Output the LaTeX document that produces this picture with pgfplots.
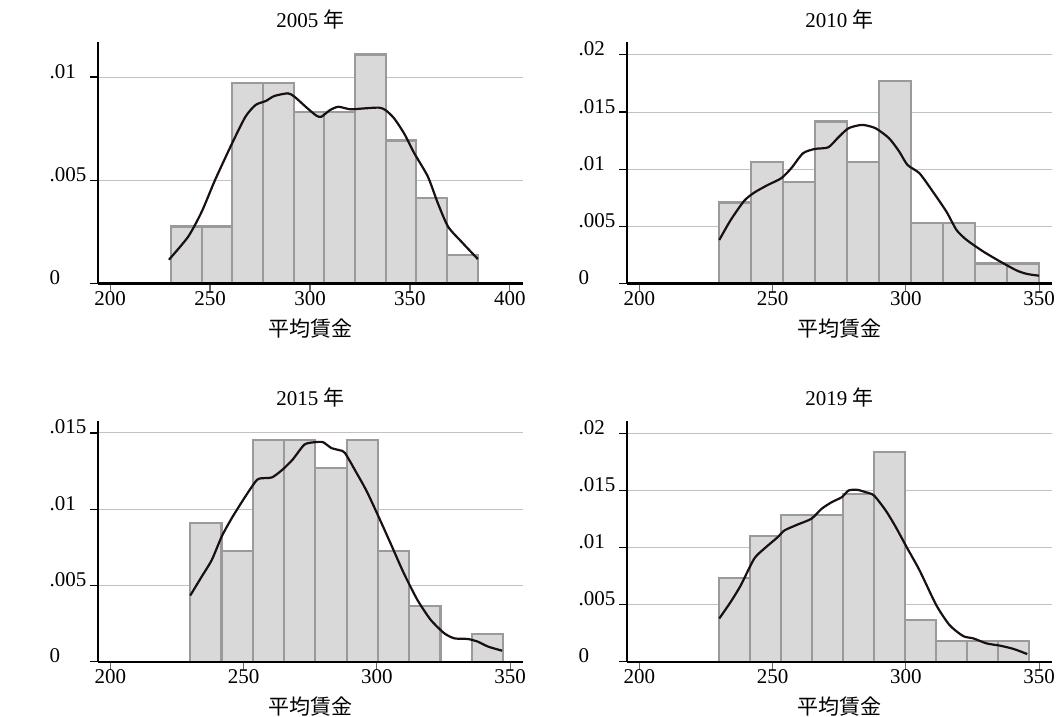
\documentclass[border=0pt]{standalone}
\usepackage{fontspec}
\setmainfont{Liberation Serif}
\newfontfamily\cjk{Noto Sans CJK JP}
\usepackage{pgfplots}
\pgfplotsset{compat=1.18}
\definecolor{barfill}{HTML}{D9D9D9}
\definecolor{baredge}{HTML}{9A9A9A}
\definecolor{gridc}{HTML}{C2C2C2}
\definecolor{curvec}{HTML}{1A1010}

\pgfplotsset{
  panel/.style={
    scale only axis, width=425pt, height=241.4pt, anchor=south west,
    axis x line=bottom, axis y line=left,
    axis line style={-, line width=2.4pt, black},
    ymin=0, enlargelimits=false,
    scaled y ticks=false, scaled x ticks=false,
    ymajorgrids, grid style={gridc, line width=1pt},
    tick align=outside, major tick length=8pt,
    ytick style={line width=1.2pt, black},
    xtick style={line width=1.2pt, black!60},
    font=\fontsize{21}{23}\selectfont,
    /pgf/number format/assume math mode=true,
    xticklabel style={anchor=base, yshift=-14pt},
    yticklabel style={anchor=base west, inner sep=0pt, xshift=-40.5pt, yshift=-1pt},
    title style={at={(axis description cs:0.5,1)}, anchor=base, yshift=9pt},
    xlabel style={at={(axis description cs:0.5,0)}, anchor=center, yshift=-45pt},
    xlabel={\cjk 平均賃金},
  },
  bars/.style={ybar interval, fill=barfill, draw=baredge, line width=2.2pt},
  kde/.style={curvec, line width=2.2pt, smooth, tension=0.4},
}

\begin{document}
\begin{tikzpicture}
\useasboundingbox (0,0) rectangle (1058pt,716pt);

% ---------- 2005 ----------
\begin{axis}[panel, at={(98pt,432.3pt)},
  xmin=193.9, xmax=406.6, ymax=0.01168,
  xtick={200,250,300,350,400},
  ytick={0,0.005,0.01}, yticklabels={0,.005,.01},
  title={2005 {\cjk 年}}]
\addplot[bars] coordinates {
 (230.40,0.002772) (245.76,0.002772) (261.11,0.009702) (276.47,0.009702)
 (291.82,0.008316) (307.18,0.008316) (322.53,0.011088) (337.89,0.006930)
 (353.24,0.004158) (368.60,0.001386) (383.95,0)};
\addplot[kde] coordinates {
 (229.4,0.00116) (239.0,0.00227) (245.8,0.00348) (252.5,0.00502)
 (261.0,0.00679) (267.7,0.00808) (272.8,0.00865) (277.9,0.00884)
 (282.1,0.00908) (288.9,0.00921) (292.2,0.00905) (298.2,0.00853)
 (303.2,0.00813) (305.7,0.00808) (310.0,0.00840) (314.2,0.00856)
 (320.1,0.00844) (326.9,0.00848) (334.5,0.00852) (337.8,0.00840)
 (342.1,0.00800) (347.1,0.00727) (352.2,0.00631) (359.0,0.00518)
 (364.0,0.00389) (369.1,0.00276) (375.8,0.00203) (384.0,0.00119)};
\draw[black, line width=2.4pt] ([xshift=-9pt]rel axis cs:0,0) -- (rel axis cs:1,0);
\node[font=\cjk\fontsize{20}{21}\selectfont, align=center, xshift=-77pt] at (rel axis cs:0,0.5) {密\\度};
\end{axis}

% ---------- 2010 ----------
\begin{axis}[panel, at={(627pt,432.3pt)},
  xmin=195.4, xmax=354.8, ymax=0.0211,
  xtick={200,250,300,350},
  ytick={0,0.005,0.01,0.015,0.02}, yticklabels={0,.005,.01,.015,.02},
  title={2010 {\cjk 年}}]
\addplot[bars] coordinates {
 (230,0.007092) (242,0.010638) (254,0.008865) (266,0.014184)
 (278,0.010638) (290,0.017730) (302,0.005319) (314,0.005319)
 (326,0.001773) (338,0.001773) (350,0)};
\addplot[kde] coordinates {
 (230.0,0.00382) (234.3,0.00557) (239.3,0.00723) (243.1,0.00796)
 (248.2,0.00863) (253.2,0.00921) (257.0,0.01009) (261.4,0.01140)
 (265.9,0.01178) (270.9,0.01192) (274.7,0.01280) (278.5,0.01359)
 (283.6,0.01388) (288.6,0.01359) (293.7,0.01271) (297.5,0.01155)
 (300.6,0.01038) (305.1,0.00965) (310.1,0.00805) (315.2,0.00630)
 (319.0,0.00469) (322.8,0.00382) (329.1,0.00280) (335.5,0.00192)
 (341.7,0.00114) (345.5,0.00085) (349.9,0.00070)};
\draw[black, line width=2.4pt] ([xshift=-9pt]rel axis cs:0,0) -- (rel axis cs:1,0);
\node[font=\cjk\fontsize{20}{21}\selectfont, align=center, xshift=-69pt] at (rel axis cs:0,0.5) {密\\度};
\end{axis}

% ---------- 2015 ----------
\begin{axis}[panel, at={(98pt,54.3pt)}, height=241pt,
  xmin=195.4, xmax=354.8, ymax=0.0158,
  xtick={200,250,300,350},
  ytick={0,0.005,0.01,0.015}, yticklabels={0,.005,.01,.015},
  title={2015 {\cjk 年}}]
\addplot[bars] coordinates {
 (230.00,0.009070) (241.73,0.007256) (253.46,0.014512) (265.19,0.014512)
 (276.92,0.012698) (288.65,0.014512) (300.38,0.007256) (312.11,0.003628)
 (323.84,0)};
\addplot[bars] coordinates {
 (335.57,0.001814) (347.30,0)};
\addplot[kde] coordinates {
 (230.0,0.00434) (234.3,0.00558) (238.1,0.00668) (241.8,0.00821)
 (245.6,0.00942) (250.7,0.01084) (255.1,0.01193) (258.3,0.01204)
 (260.8,0.01209) (264.6,0.01259) (268.4,0.01325) (272.8,0.01423)
 (276.6,0.01439) (279.8,0.01439) (282.9,0.01401) (286.1,0.01386)
 (288.0,0.01369) (292.4,0.01237) (296.2,0.01117) (300.6,0.00952)
 (305.1,0.00777) (310.1,0.00580) (315.2,0.00405) (320.2,0.00274)
 (325.3,0.00186) (329.1,0.00153) (334.1,0.00149) (337.9,0.00131)
 (341.7,0.00099) (347.0,0.00072)};
\draw[black, line width=2.4pt] ([xshift=-9pt]rel axis cs:0,0) -- (rel axis cs:1,0);
\node[font=\cjk\fontsize{20}{21}\selectfont, align=center, xshift=-77pt] at (rel axis cs:0,0.5) {密\\度};
\end{axis}

% ---------- 2019 ----------
\begin{axis}[panel, at={(627pt,54.3pt)}, height=241pt,
  xmin=195.4, xmax=354.8, ymax=0.0211,
  xtick={200,250,300,350},
  ytick={0,0.005,0.01,0.015,0.02}, yticklabels={0,.005,.01,.015,.02},
  title={2019 {\cjk 年}}]
\addplot[bars] coordinates {
 (230.00,0.007331) (241.61,0.010996) (253.22,0.012829) (264.83,0.012829)
 (276.44,0.014662) (288.05,0.018327) (299.66,0.003665) (311.27,0.001833)
 (322.88,0.001833) (334.49,0.001833) (346.10,0)};
\addplot[kde] coordinates {
 (230.0,0.00378) (234.3,0.00524) (238.1,0.00670) (243.1,0.00902)
 (246.9,0.00990) (252.0,0.01092) (254.5,0.01150) (259.5,0.01202)
 (264.6,0.01252) (268.4,0.01339) (272.2,0.01397) (276.0,0.01441)
 (278.5,0.01499) (281.7,0.01505) (284.8,0.01485) (288.0,0.01456)
 (292.4,0.01325) (296.2,0.01179) (300.6,0.00990) (305.1,0.00801)
 (311.4,0.00495) (316.4,0.00320) (321.5,0.00224) (325.3,0.00204)
 (330.3,0.00160) (335.4,0.00140) (340.5,0.00111) (345.5,0.00067)};
\draw[black, line width=2.4pt] ([xshift=-9pt]rel axis cs:0,0) -- (rel axis cs:1,0);
\node[font=\cjk\fontsize{20}{21}\selectfont, align=center, xshift=-69pt] at (rel axis cs:0,0.5) {密\\度};
\end{axis}
\end{tikzpicture}
\end{document}
